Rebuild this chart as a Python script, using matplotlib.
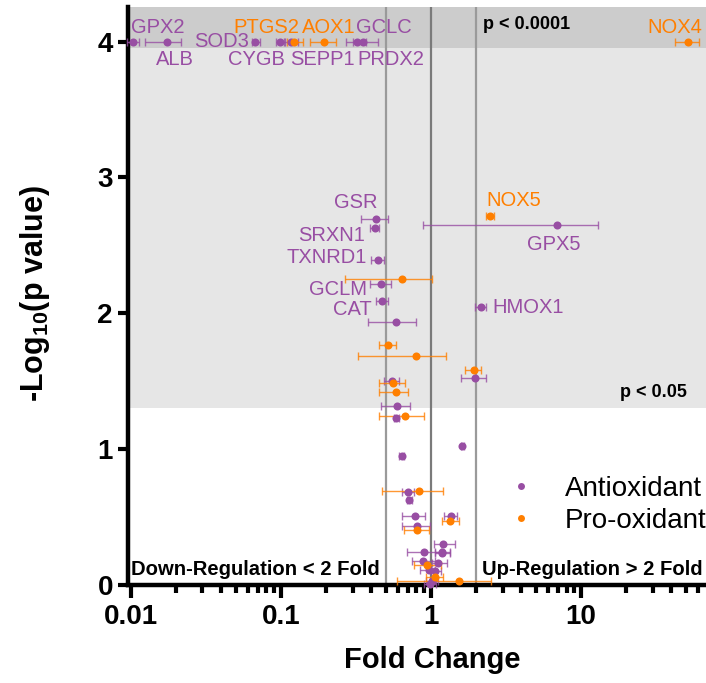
import matplotlib
matplotlib.use("Agg")
import matplotlib.pyplot as plt
import numpy as np

plt.rcParams['font.family'] = ['Liberation Sans', 'DejaVu Sans']
plt.rcParams['mathtext.fontset'] = 'custom'
plt.rcParams['mathtext.rm'] = 'Liberation Sans'
plt.rcParams['mathtext.bf'] = 'Liberation Sans:bold'

# ---------------- data ----------------
# Antioxidant genes: fold change, -log10 p, lower CI, upper CI
anti_fc = [0.0103, 0.0173, 0.067, 0.099, 0.117, 0.32, 0.355,
           0.431, 0.422, 6.87, 0.442, 0.466, 0.470, 2.14, 0.581,
           1.96, 0.549, 0.597, 0.588, 1.62, 0.638, 0.703, 0.718,
           0.78, 1.36, 0.805, 1.21, 1.19, 0.90, 1.19, 0.89, 1.12,
           0.97, 1.07, 1.01, 0.99]
anti_p = [4.0, 4.0, 4.0, 4.0, 4.0, 4.0, 4.0,
          2.693, 2.63, 2.652, 2.395, 2.215, 2.09, 2.046, 1.936,
          1.524, 1.505, 1.316, 1.233, 1.022, 0.949, 0.684, 0.623,
          0.507, 0.507, 0.434, 0.30, 0.245, 0.24, 0.238, 0.18, 0.16,
          0.11, 0.10, 0.03, 0.01]
anti_lo = [0.0094, 0.0124, 0.064, 0.093, 0.105, 0.272, 0.30,
           0.341, 0.395, 0.888, 0.398, 0.395, 0.433, 1.96, 0.379,
           1.59, 0.485, 0.465, 0.565, 1.58, 0.615, 0.645, 0.69,
           0.638, 1.23, 0.638, 1.04, 1.07, 0.697, 1.07, 0.742, 1.02,
           0.84, 1.0, 0.93, 0.90]
anti_hi = [0.0113, 0.0217, 0.072, 0.107, 0.13, 0.37, 0.445,
           0.519, 0.449, 12.9, 0.488, 0.538, 0.516, 2.32, 0.789,
           2.32, 0.612, 0.726, 0.612, 1.67, 0.66, 0.772, 0.745,
           0.916, 1.49, 0.985, 1.44, 1.33, 1.17, 1.33, 1.07, 1.27,
           1.07, 1.16, 1.12, 1.08]

# Pro-oxidant genes
pro_fc = [0.123, 0.194, 51.6, 2.47, 0.641, 0.516, 0.793, 1.94, 0.56,
          0.581, 0.676, 0.834, 1.34, 0.813, 0.94, 1.06, 1.54]
pro_p = [4.0, 4.0, 4.0, 2.718, 2.255, 1.767, 1.686, 1.581, 1.49,
         1.421, 1.243, 0.691, 0.47, 0.404, 0.15, 0.06, 0.03]
pro_lo = [0.11, 0.157, 42.0, 2.31, 0.269, 0.449, 0.326, 1.69, 0.449,
          0.449, 0.449, 0.473, 1.18, 0.661, 0.773, 0.93, 0.59]
pro_hi = [0.14, 0.233, 61.5, 2.64, 1.01, 0.581, 1.256, 2.17, 0.668,
          0.708, 0.902, 1.21, 1.54, 0.975, 1.17, 1.2, 2.53]

# Gene labels: text, x, y (baseline), alignment, group
lab_text = ['GPX2', 'ALB', 'SOD3', 'CYGB', 'PTGS2', 'SEPP1', 'AOX1', 'GCLC', 'PRDX2', 'NOX4',
            'GSR', 'SRXN1', 'TXNRD1', 'GCLM', 'CAT', 'NOX5', 'GPX5', 'HMOX1']
lab_x = [0.0101, 0.0148, 0.0264, 0.0441, 0.048, 0.116, 0.1374, 0.316, 0.323, 27.7,
         0.441, 0.363, 0.376, 0.373, 0.406, 2.35, 4.39, 2.56]
lab_y = [4.064, 3.83, 3.958, 3.83, 4.064, 3.83, 4.064, 4.064, 3.83, 4.064,
         2.775, 2.529, 2.374, 2.136, 1.989, 2.787, 2.468, 2.0]
lab_ha = ['left'] * 10 + ['right'] * 5 + ['left'] * 3
lab_grp = ['a', 'a', 'a', 'a', 'p', 'a', 'p', 'a', 'a', 'p',
           'a', 'a', 'a', 'a', 'a', 'p', 'a', 'a']

PURPLE = '#984EA3'
ORANGE = '#FF7F00'

# ---------------- figure ----------------
fig = plt.figure(figsize=(7.06, 6.83), dpi=100)
W, H = 706, 683
x0, x1, ytop, ybot = 127.5, 706, 7, 585
ax = fig.add_axes([x0 / W, 1 - ybot / H, (x1 - x0) / W, (ybot - ytop) / H])
ax.set_xscale('log')
ax.set_xlim(0.0095, 68)
ax.set_ylim(0, 4.255)

ax.axhspan(1.301, 3.95, color='#e6e6e6', lw=0, zorder=0)
ax.axhspan(3.95, 4.4, color='#cccccc', lw=0, zorder=0)
ax.axvline(0.5, color='#9a9a9a', lw=1.6, zorder=1)
ax.axvline(1.0, color='#7a7a7a', lw=1.6, zorder=1)
ax.axvline(2.0, color='#9a9a9a', lw=1.6, zorder=1)


def draw(fc, p, lo, hi, color):
    fc = np.array(fc); p = np.array(p)
    err = np.vstack([fc - np.array(lo), np.array(hi) - fc])
    ax.errorbar(fc, p, xerr=err, fmt='none', ecolor=color, elinewidth=1.0,
                capsize=3, capthick=1.0, alpha=0.8, zorder=3, clip_on=False)
    ax.plot(fc, p, 'o', color=color, ms=5.8, mew=0, zorder=4, clip_on=False)


draw(anti_fc, anti_p, anti_lo, anti_hi, PURPLE)
draw(pro_fc, pro_p, pro_lo, pro_hi, ORANGE)

for t, x, y, ha, g in zip(lab_text, lab_x, lab_y, lab_ha, lab_grp):
    ax.text(x, y, t, ha=ha, va='baseline', fontsize=14.5,
            color=PURPLE if g == 'a' else ORANGE, zorder=5)

ax.text(2.23, 4.093, 'p < 0.0001', fontsize=13, fontweight='bold', va='baseline', ha='left')
ax.text(18.2, 1.387, 'p < 0.05', fontsize=13, fontweight='bold', va='baseline', ha='left')
ax.text(0.0101, 0.074, 'Down-Regulation < 2 Fold', fontsize=14.6, fontweight='bold',
        va='baseline', ha='left')
ax.text(2.19, 0.074, 'Up-Regulation > 2 Fold', fontsize=14.6, fontweight='bold',
        va='baseline', ha='left')

# legend
ha1, = ax.plot([], [], 'o', color=PURPLE, ms=5, mew=0)
ha2, = ax.plot([], [], 'o', color=ORANGE, ms=5, mew=0)
ax.legend([ha1, ha2], ['Antioxidant', 'Pro-oxidant'], loc='center left',
          bbox_to_anchor=(0.665, 0.139), frameon=False, fontsize=20,
          handlelength=0.6, handletextpad=1.3, labelspacing=0.22,
          borderpad=0, borderaxespad=0)

# axes styling
for s in ['top', 'right']:
    ax.spines[s].set_visible(False)
for s in ['left', 'bottom']:
    ax.spines[s].set_linewidth(3.2)
ax.set_yticks([0, 1, 2, 3, 4])
ax.set_xticks([0.01, 0.1, 1, 10])
ax.set_xticklabels(['0.01', '0.1', '1', '10'])
ax.tick_params(axis='both', which='major', width=3, labelsize=20)
ax.tick_params(axis='y', length=7)
ax.tick_params(axis='x', which='major', length=9, pad=5)
ax.tick_params(axis='x', which='minor', length=6, width=3)
for lab in ax.get_xticklabels() + ax.get_yticklabels():
    lab.set_fontweight('bold')

fig.text(432 / W, 1 - 668 / H, 'Fold Change', fontsize=21, fontweight='bold',
         ha='center', va='baseline')
fig.text(35 / W, 1 - 294 / H, r'-Log$_{\mathbf{10}}$(p value)', fontsize=22,
         fontweight='bold', ha='center', va='center', rotation=90)

fig.savefig('out.png', dpi=100)
